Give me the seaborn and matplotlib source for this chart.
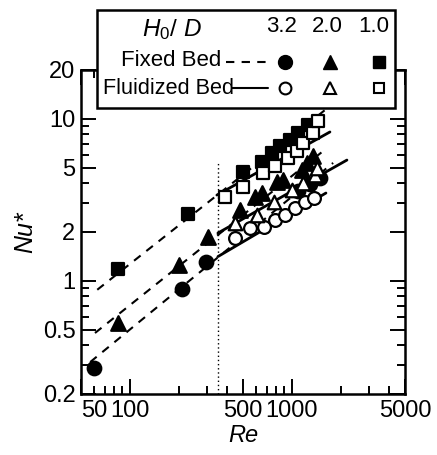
import matplotlib
matplotlib.use("Agg")
import matplotlib.pyplot as plt
import seaborn as sns
from matplotlib.lines import Line2D
from matplotlib.patches import Rectangle
from matplotlib.ticker import FixedLocator, NullFormatter

# data: Nu* vs Re for H0/D = 3.2, 2.0, 1.0
fixed_re_32 = [60, 210, 295, 1100, 1300, 1500]
fixed_nu_32 = [0.29, 0.89, 1.31, 3.6, 3.95, 4.3]
fixed_re_20 = [85, 200, 305, 479, 593, 655, 811, 883, 1157, 1242, 1352]
fixed_nu_20 = [0.55, 1.25, 1.85, 2.74, 3.29, 3.5, 4.06, 4.18, 4.83, 5.34, 5.89]
fixed_re_10 = [85, 230, 500, 655, 755, 846, 975, 1094, 1260]
fixed_nu_10 = [1.18, 2.6, 4.69, 5.42, 6.15, 6.79, 7.4, 8.17, 9.15]

fluid_re_32 = [446, 552, 673, 788, 908, 1047, 1207, 1374]
fluid_nu_32 = [1.84, 2.12, 2.15, 2.37, 2.55, 2.81, 3.06, 3.24]
fluid_re_20 = [446, 610, 777, 1003, 1173, 1392, 1432]
fluid_nu_20 = [2.28, 2.55, 3.06, 3.64, 4.01, 4.49, 4.96]
fluid_re_10 = [387, 500, 664, 788, 947, 1077, 1173, 1352, 1450]
fluid_nu_10 = [3.29, 3.78, 4.63, 5.11, 5.73, 6.32, 7.08, 8.17, 9.69]

# correlation line end points
fixed_line_re = {"3.2": [57, 1800], "2.0": [61, 1650], "1.0": [63, 1600]}
fixed_line_nu = {"3.2": [0.315, 5.34], "2.0": [0.476, 6.6], "1.0": [0.88, 11.3]}
fluid_line_re = {"3.2": [350, 1625], "2.0": [350, 2190], "1.0": [345, 1720]}
fluid_line_nu = {"3.2": [1.41, 3.48], "2.0": [1.97, 5.56], "1.0": [3.38, 8.29]}

re_limit = 350
x_ticks = [50, 100, 500, 1000, 5000]
x_labels = ["50", "100", "500", "1000", "5000"]
y_ticks = [0.2, 0.5, 1, 2, 5, 10, 20]
y_labels = ["0.2", "0.5", "1", "2", "5", "10", "20"]

sns.set_style("ticks", {"axes.edgecolor": "black", "text.color": "black",
                        "axes.labelcolor": "black", "xtick.color": "black",
                        "ytick.color": "black"})
plt.rcParams["font.family"] = ["Liberation Sans", "DejaVu Sans"]
plt.rcParams["mathtext.fontset"] = "custom"
plt.rcParams["mathtext.it"] = "Liberation Sans:italic"
plt.rcParams["mathtext.rm"] = "Liberation Sans"

W, H = 437, 455
fig = plt.figure(figsize=(W / 100, H / 100), dpi=100)
ax = fig.add_axes([81 / W, 1 - 394 / H, 324 / W, 324 / H])
ax.set_xscale("log")
ax.set_yscale("log")

# correlation lines
for key in ["3.2", "2.0", "1.0"]:
    sns.lineplot(x=fixed_line_re[key], y=fixed_line_nu[key], ax=ax, color="black",
                 lw=1.5, linestyle=(0, (4, 3.5)), sort=False, zorder=1)
    sns.lineplot(x=fluid_line_re[key], y=fluid_line_nu[key], ax=ax, color="black",
                 lw=2.0, sort=False, zorder=1)
ax.axvline(re_limit, ymax=0.72, color="black", lw=1, linestyle=(0, (1, 2)), zorder=0)

groups = [
    (fixed_re_32, fixed_nu_32, "o", "black", 95),
    (fixed_re_20, fixed_nu_20, "^", "black", 110),
    (fixed_re_10, fixed_nu_10, "s", "black", 85),
    (fluid_re_32, fluid_nu_32, "o", "white", 85),
    (fluid_re_20, fluid_nu_20, "^", "white", 95),
    (fluid_re_10, fluid_nu_10, "s", "white", 85),
]
for re, nu, mk, fc, s in groups:
    sns.scatterplot(x=re, y=nu, marker=mk, s=s, color=fc, edgecolor="black",
                    linewidth=1.6, ax=ax, zorder=3)

ax.set_xlim(50, 5000)
ax.set_ylim(0.2, 20)
ax.xaxis.set_major_locator(FixedLocator(x_ticks))
ax.set_xticklabels(x_labels)
ax.xaxis.set_minor_locator(FixedLocator([60, 70, 80, 90, 200, 300, 400, 600, 700, 800, 900, 2000, 3000, 4000]))
ax.xaxis.set_minor_formatter(NullFormatter())
ax.yaxis.set_major_locator(FixedLocator(y_ticks))
ax.set_yticklabels(y_labels)
ax.yaxis.set_minor_locator(FixedLocator([0.3, 0.4, 0.6, 0.7, 0.8, 0.9, 3, 4, 6, 7, 8, 9]))
ax.yaxis.set_minor_formatter(NullFormatter())
ax.tick_params(which="both", direction="in", top=True, right=True, width=1.4, labelsize=17, pad=4,
               colors="black")
ax.tick_params(which="major", length=11)
ax.tick_params(which="minor", length=6)
ax.xaxis.get_major_ticks()[0].label1.set_horizontalalignment("left")
for sp in ax.spines.values():
    sp.set_linewidth(1.8)
    sp.set_color("black")

ax.set_xlabel("Re", fontsize=17, style="italic", labelpad=2, color="black")
ax.set_ylabel("Nu*", fontsize=18, style="italic", labelpad=4, color="black")

# hand-made legend box over the top of the axes
def fx(px):
    return px / W

def fy(py):
    return 1 - py / H

fig.patches.append(Rectangle((fx(97), fy(108)), fx(395) - fx(97), fy(10) - fy(108),
                             transform=fig.transFigure, facecolor="white",
                             edgecolor="black", lw=1.8, zorder=5))
tk = dict(fontsize=16, va="center", zorder=6, color="black")
fig.text(fx(172), fy(30), r"$H_0$/ $D$", ha="center", fontsize=17.5, va="center", zorder=6,
         color="black")
fig.text(fx(282), fy(27), "3.2", ha="center", **tk)
fig.text(fx(327), fy(27), "2.0", ha="center", **tk)
fig.text(fx(374), fy(27), "1.0", ha="center", **tk)
fig.text(fx(221), fy(60), "Fixed Bed", ha="right", **tk)
fig.text(fx(234), fy(88), "Fluidized Bed", ha="right", fontsize=15.6, va="center", zorder=6,
         color="black")
fig.lines.append(Line2D([fx(226), fx(268)], [fy(62), fy(62)], transform=fig.transFigure,
                        color="black", lw=1.5, linestyle=(0, (4, 3.5)), zorder=6))
fig.lines.append(Line2D([fx(232), fx(268)], [fy(88), fy(88)], transform=fig.transFigure,
                        color="black", lw=1.5, zorder=6))
for px, mk, ms in [(285, "o", 10), (330, "^", 10.5), (379, "s", 9)]:
    fig.lines.append(Line2D([fx(px)], [fy(62)], transform=fig.transFigure, marker=mk, ms=ms,
                            color="black", zorder=6))
    fig.lines.append(Line2D([fx(px)], [fy(88)], transform=fig.transFigure, marker=mk, ms=ms - 1.5,
                            mfc="white", mec="black", mew=1.5, color="black", zorder=6))

fig.savefig("out.png", dpi=100)
